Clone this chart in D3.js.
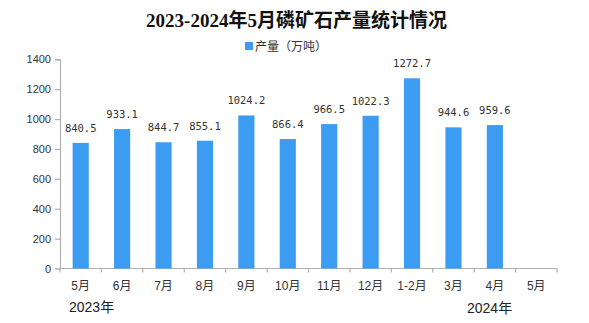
<!DOCTYPE html>
<html><head><meta charset="utf-8">
<script src="https://cdn.jsdelivr.net/npm/d3@7"></script>
<style>html,body{margin:0;padding:0;background:#fff;}svg{display:block;}</style>
</head><body>
<svg id="chart" width="589" height="323"></svg>
<script>
const title = "2023-2024年5月磷矿石产量统计情况";
const seriesName = "产量（万吨）";
const categories = ["5月","6月","7月","8月","9月","10月","11月","12月","1-2月","3月","4月","5月"];
const values = [840.5, 933.1, 844.7, 855.1, 1024.2, 866.4, 966.5, 1022.3, 1272.7, 944.6, 959.6, null];
const yTicks = [0, 200, 400, 600, 800, 1000, 1200, 1400];
const yearLabels = ["2023年", "2024年"];

const svg = d3.select("#chart");
const mLeft = 60, mRight = 557, mTop = 59.3, mBottom = 268.5;
const color = "#3c9cf2", axisColor = "#b0b0b0", textColor = "#333";

const x = d3.scaleBand().domain(d3.range(categories.length)).range([mLeft, mRight])
  .paddingInner(0.61).paddingOuter(0.305);
const y = d3.scaleLinear().domain([0, 1400]).range([mBottom, mTop]);

svg.append("text").attr("x", 296.5).attr("y", 27).attr("text-anchor", "middle")
  .attr("font-family", "'Liberation Serif','Noto Sans CJK SC',serif").attr("font-weight", "bold")
  .attr("font-size", 19).attr("fill", "#111").text(title);

// legend
svg.append("rect").attr("x", 245).attr("y", 42).attr("width", 8).attr("height", 8).attr("fill", color);
svg.append("text").attr("x", 255).attr("y", 50.5).attr("font-family", "'Noto Sans CJK SC',sans-serif")
  .attr("font-size", 12).attr("fill", textColor).text(seriesName);

// y axis
const yAxis = d3.axisLeft(y).tickValues(yTicks).tickSize(5).tickPadding(4).tickFormat(d3.format("d"));
const gy = svg.append("g").attr("transform", `translate(${mLeft},0)`).call(yAxis);
gy.selectAll("path,line").attr("stroke", axisColor).attr("stroke-width", 1.2);
gy.selectAll("text").attr("font-family", "'Liberation Sans',sans-serif").attr("font-size", 11).attr("fill", textColor);

// x axis with ticks at slot boundaries
const gx = svg.append("g").attr("transform", `translate(0,${mBottom})`);
gx.append("line").attr("x1", mLeft).attr("x2", mRight).attr("stroke", axisColor).attr("stroke-width", 1.2);
const step = x.step();
gx.selectAll("line.tk").data(d3.range(categories.length + 1)).join("line").attr("class", "tk")
  .attr("x1", i => mLeft + i * step).attr("x2", i => mLeft + i * step).attr("y1", 0).attr("y2", 4)
  .attr("stroke", axisColor).attr("stroke-width", 1.2);
gx.selectAll("text").data(categories).join("text")
  .attr("x", (d, i) => x(i) + x.bandwidth() / 2).attr("y", 21).attr("text-anchor", "middle")
  .attr("font-family", "'Liberation Sans','Noto Sans CJK SC',sans-serif").attr("font-size", 12)
  .attr("fill", textColor).text(d => d);

// bars
const data = values.map((v, i) => ({i, v})).filter(d => d.v != null);
svg.selectAll("rect.bar").data(data).join("rect").attr("class", "bar")
  .attr("x", d => x(d.i)).attr("width", x.bandwidth())
  .attr("y", d => y(d.v)).attr("height", d => y(0) - y(d.v)).attr("fill", color);
svg.selectAll("text.lbl").data(data).join("text").attr("class", "lbl")
  .attr("x", d => x(d.i) + x.bandwidth() / 2).attr("y", d => y(d.v) - 11).attr("text-anchor", "middle")
  .attr("font-family", "'DejaVu Sans Mono',monospace").attr("font-size", 10.5).attr("fill", textColor)
  .text(d => d.v.toFixed(1));

// year labels
svg.append("text").attr("x", 69).attr("y", 312).attr("font-family", "'Liberation Sans','Noto Sans CJK SC',sans-serif")
  .attr("font-size", 14).attr("fill", "#222").text(yearLabels[0]);
svg.append("text").attr("x", 467).attr("y", 313).attr("font-family", "'Liberation Sans','Noto Sans CJK SC',sans-serif")
  .attr("font-size", 14).attr("fill", "#222").text(yearLabels[1]);
</script>
</body></html>
